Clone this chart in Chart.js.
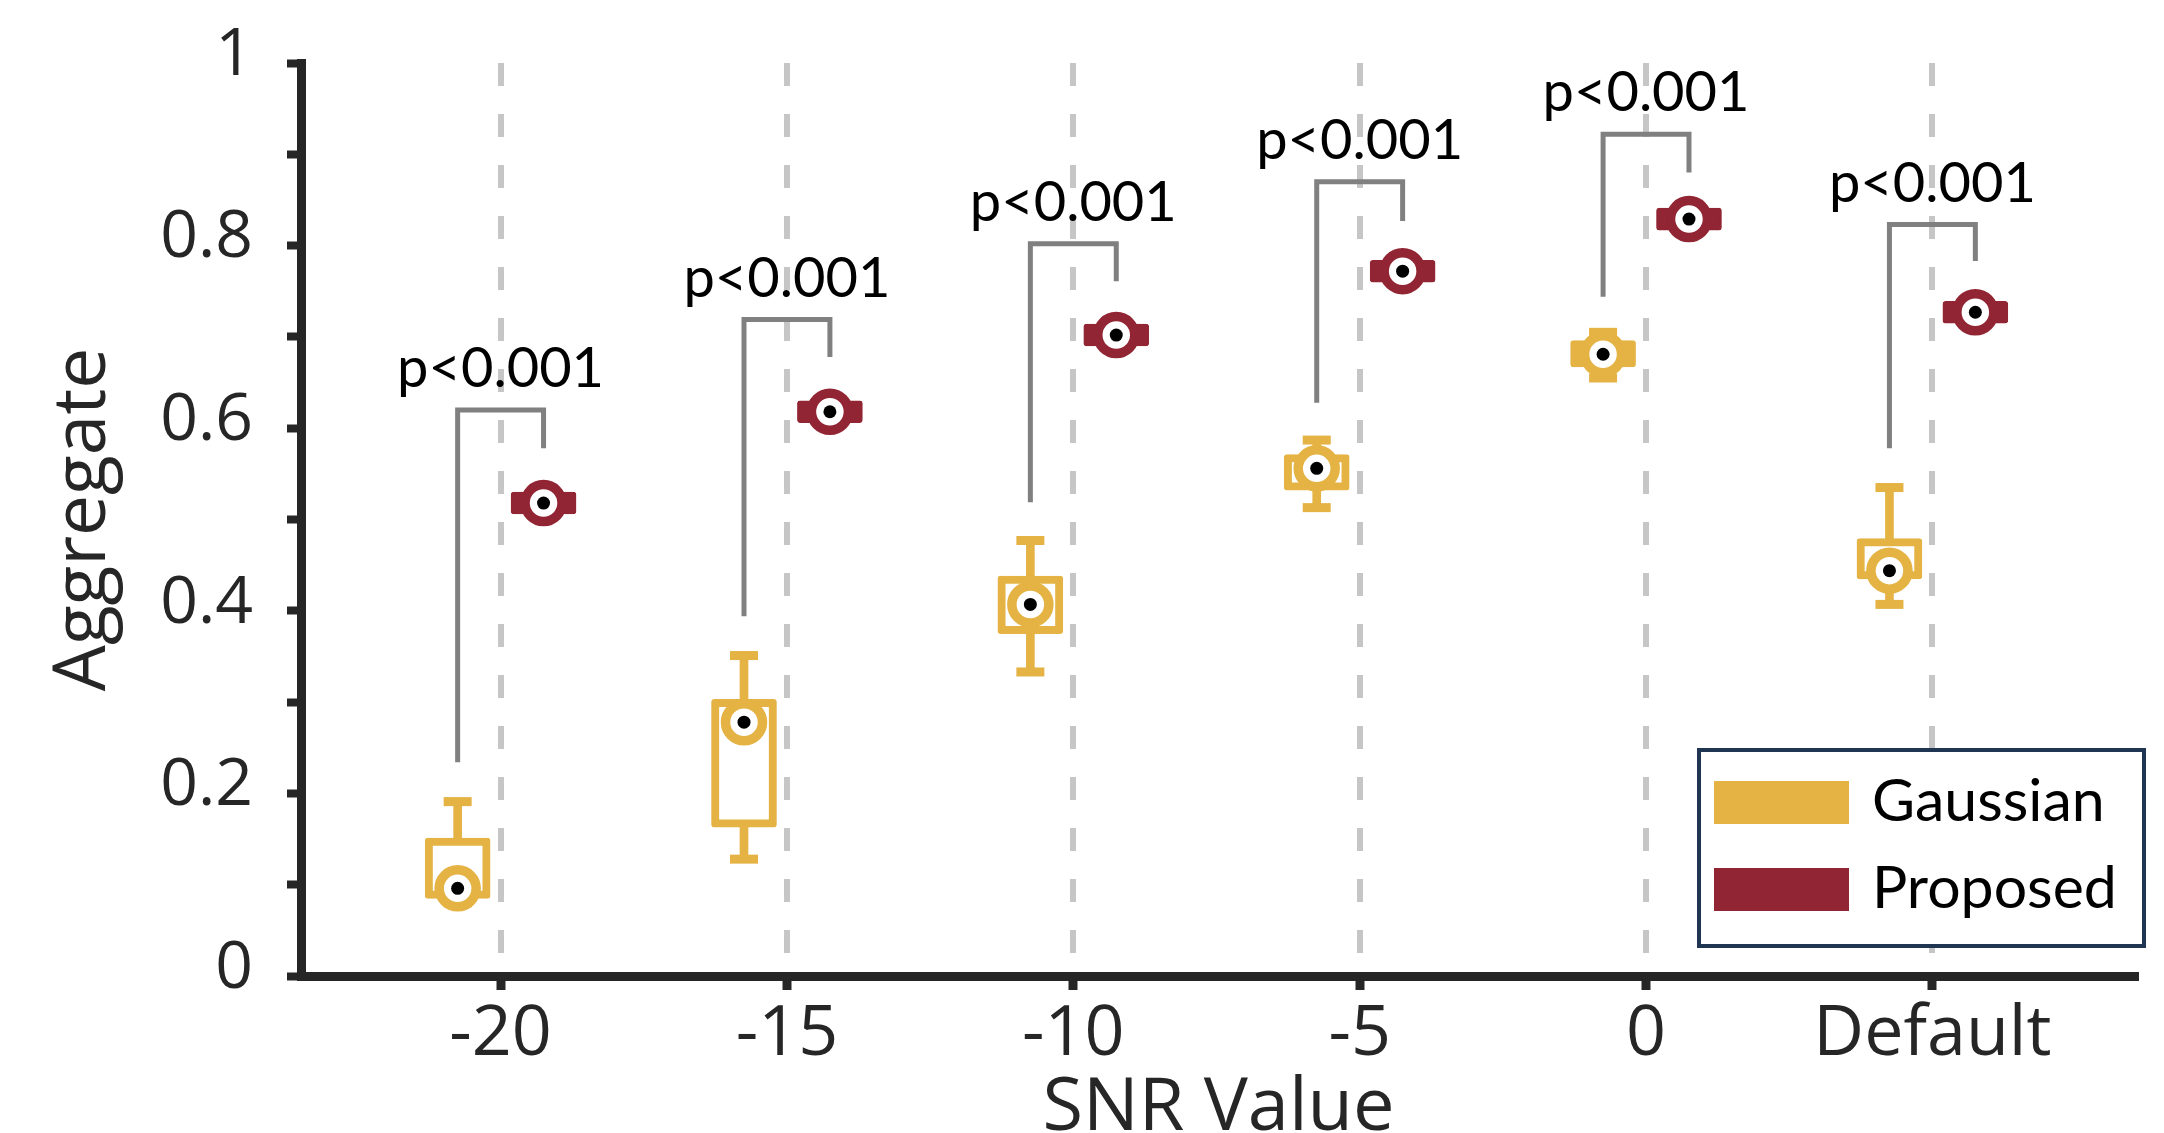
<!DOCTYPE html>
<html>
<head>
<meta charset="utf-8">
<title>Aggregate by SNR</title>
<script src="https://cdn.jsdelivr.net/npm/chart.js@4.4.1/dist/chart.umd.min.js"></script>
<style>
  html, body { margin: 0; padding: 0; background: #fff; overflow: hidden; }
  #wrap { width: 2164px; height: 1133px; position: relative; }
</style>
</head>
<body>
<div id="wrap"><canvas id="snr-chart"></canvas></div>
<script>
// categories on the x axis
const categories = ['-20', '-15', '-10', '-5', '0', 'Default'];
const seriesNames = ['Gaussian', 'Proposed'];
const seriesColors = ['#E4B344', '#922533'];

// Gaussian box stats
const gaussMin    = [0.080, 0.128, 0.333, 0.513, 0.655, 0.407];
const gaussQ1     = [0.085, 0.163, 0.375, 0.532, 0.667, 0.435];
const gaussMedian = [0.096, 0.278, 0.407, 0.556, 0.681, 0.444];
const gaussQ3     = [0.151, 0.303, 0.438, 0.571, 0.696, 0.479];
const gaussMax    = [0.191, 0.351, 0.477, 0.587, 0.705, 0.535];

// Proposed box stats
const propMin    = [0.504, 0.604, 0.688, 0.758, 0.815, 0.713];
const propQ1     = [0.506, 0.606, 0.690, 0.760, 0.817, 0.715];
const propMedian = [0.518, 0.618, 0.702, 0.772, 0.829, 0.727];
const propQ3     = [0.530, 0.630, 0.714, 0.784, 0.841, 0.739];
const propMax    = [0.532, 0.632, 0.716, 0.786, 0.843, 0.741];

// significance brackets
const bracketTop      = [0.620, 0.719, 0.802, 0.870, 0.922, 0.823];
const bracketLeftEnd  = [0.234, 0.394, 0.519, 0.628, 0.744, 0.578];
const bracketRightEnd = [0.578, 0.678, 0.761, 0.827, 0.880, 0.783];
const pLabels = ['p<0.001', 'p<0.001', 'p<0.001', 'p<0.001', 'p<0.001', 'p<0.001'];

// y ticks
const yTickValues = [0, 0.1, 0.2, 0.3, 0.4, 0.5, 0.6, 0.7, 0.8, 0.9, 1];
const yTickLabels = ['0', '', '0.2', '', '0.4', '', '0.6', '', '0.8', '', '1'];

const seriesOffset = [-0.15, 0.15];
const stats = [
    {min: gaussMin, q1: gaussQ1, med: gaussMedian, q3: gaussQ3, max: gaussMax},
    {min: propMin, q1: propQ1, med: propMedian, q3: propQ3, max: propMax}
];

function pos(i, s) { return i + seriesOffset[s]; }

const datasets = [];
stats.forEach(function (st, s) {
    const color = seriesColors[s];
    // whisker stem
    datasets.push({
        type: 'bar', label: seriesNames[s] + ' whisker', order: 5,
        data: categories.map((c, i) => ({x: pos(i, s), y: [st.min[i], st.max[i]]})),
        backgroundColor: color, borderWidth: 0,
        grouped: false, barPercentage: 1, barThickness: 8, maxBarThickness: 8
    });
    // box (thin boxes look solid, like the original)
    datasets.push({
        type: 'bar', label: seriesNames[s], order: 4,
        data: categories.map((c, i) => ({x: pos(i, s), y: [st.q1[i], st.q3[i]]})),
        backgroundColor: function (c) {
            const i = c.dataIndex;
            if (i === undefined) return '#ffffff';
            return (st.q3[i] - st.q1[i]) < 0.035 ? color : '#ffffff';
        },
        borderColor: color, borderWidth: 8,
        borderSkipped: false, borderRadius: 3,
        grouped: false, barPercentage: 1, barThickness: 65, maxBarThickness: 65
    });
    // whisker caps
    datasets.push({
        type: 'scatter', label: seriesNames[s] + ' caps', order: 3,
        data: categories.flatMap((c, i) => [{x: pos(i, s), y: st.min[i]}, {x: pos(i, s), y: st.max[i]}]),
        pointStyle: 'line', pointRadius: 14, pointBorderWidth: 9,
        borderColor: color, pointBorderColor: color, showLine: false
    });
    // median ring
    datasets.push({
        type: 'scatter', label: seriesNames[s] + ' median', order: 2,
        data: categories.map((c, i) => ({x: pos(i, s), y: st.med[i]})),
        pointRadius: 18.5, pointBorderWidth: 9.5,
        pointBackgroundColor: '#ffffff', pointBorderColor: color, showLine: false
    });
    // median dot
    datasets.push({
        type: 'scatter', label: seriesNames[s] + ' dot', order: 1,
        data: categories.map((c, i) => ({x: pos(i, s), y: st.med[i]})),
        pointRadius: 6.5, pointBorderWidth: 0,
        pointBackgroundColor: '#000000', showLine: false
    });
});

// brackets as one broken line
const bracketData = [];
categories.forEach(function (c, i) {
    bracketData.push({x: pos(i, 0), y: bracketLeftEnd[i]});
    bracketData.push({x: pos(i, 0), y: bracketTop[i]});
    bracketData.push({x: pos(i, 1), y: bracketTop[i]});
    bracketData.push({x: pos(i, 1), y: bracketRightEnd[i]});
    bracketData.push({x: pos(i, 1), y: null});
});
datasets.push({
    type: 'line', label: 'brackets', order: 6,
    data: bracketData,
    borderColor: '#808080', borderWidth: 5, pointRadius: 0,
    spanGaps: false, tension: 0, fill: false, borderJoinStyle: 'miter'
});

const pValuePlugin = {
    id: 'pValues',
    afterDatasetsDraw(chart) {
        const ctx = chart.ctx;
        const x = chart.scales.x, y = chart.scales.y;
        ctx.save();
        ctx.font = '56px Lato';
        ctx.fillStyle = '#000';
        ctx.textAlign = 'center';
        ctx.textBaseline = 'alphabetic';
        pLabels.forEach(function (t, i) {
            ctx.fillText(t, x.getPixelForValue(i), y.getPixelForValue(bracketTop[i]) - 23);
        });
        ctx.restore();
    }
};

const boxLegendPlugin = {
    id: 'boxLegend',
    afterDraw(chart) {
        const ctx = chart.ctx;
        const left = 1697, top = 748, w = 449, h = 200;
        ctx.save();
        ctx.fillStyle = '#fff';
        ctx.fillRect(left, top, w, h);
        ctx.strokeStyle = '#1F3552';
        ctx.lineWidth = 4;
        ctx.strokeRect(left + 2, top + 2, w - 4, h - 4);
        ctx.font = '59px Lato';
        ctx.textBaseline = 'alphabetic';
        ctx.textAlign = 'left';
        seriesNames.forEach(function (name, s) {
            const rowTop = top + 33 + s * 87;
            ctx.fillStyle = seriesColors[s];
            ctx.fillRect(left + 17, rowTop, 135, 43);
            ctx.fillStyle = '#000';
            ctx.fillText(name, left + 175, rowTop + 40);
        });
        ctx.restore();
    }
};

const ctx = document.getElementById('snr-chart');
new Chart(ctx, {
    type: 'bar',
    data: { datasets: datasets },
    options: {
        responsive: true,
        maintainAspectRatio: false,
        animation: false,
        layout: { padding: { top: 63, right: 27, left: 0, bottom: 0 } },
        plugins: { legend: { display: false }, tooltip: { enabled: false } },
        scales: {
            x: {
                type: 'linear',
                min: -0.697,
                max: 5.711,
                offset: false,
                afterBuildTicks: function (scale) {
                    scale.ticks = categories.map((c, i) => ({value: i}));
                },
                afterFit: function (scale) { scale.height = 157; },
                ticks: {
                    callback: function (v, i) { return categories[i]; },
                    font: { family: 'Open Sans', size: 70 },
                    color: '#262626',
                    padding: 3,
                    maxRotation: 0,
                    autoSkip: false
                },
                grid: {
                    offset: false,
                    drawOnChartArea: true,
                    color: '#C6C6C6',
                    lineWidth: 6,
                    tickColor: '#262626',
                    tickWidth: 9,
                    tickLength: 14,
                    tickBorderDash: []
                },
                border: { color: '#262626', width: 9, dash: [23, 28] },
                title: {
                    display: true,
                    text: 'SNR Value',
                    font: { family: 'Open Sans', size: 74, lineHeight: 0.64 },
                    color: '#262626',
                    padding: 0
                }
            },
            y: {
                min: 0,
                max: 1,
                afterBuildTicks: function (scale) {
                    scale.ticks = yTickValues.map(v => ({value: v}));
                },
                afterFit: function (scale) { scale.width = 301; },
                ticks: {
                    callback: function (v, i) { return yTickLabels[i]; },
                    font: { family: 'Open Sans', size: 66, lineHeight: 0.6 },
                    color: '#262626',
                    padding: 34,
                    labelOffset: -7
                },
                grid: {
                    drawOnChartArea: false,
                    tickColor: '#262626',
                    tickWidth: 8,
                    tickLength: 14
                },
                border: { color: '#262626', width: 9 },
                title: {
                    display: true,
                    text: 'Aggregate',
                    font: { family: 'Open Sans', size: 73 },
                    color: '#262626',
                    padding: { top: 40, bottom: 0 }
                }
            }
        }
    },
    plugins: [pValuePlugin, boxLegendPlugin]
});
</script>
</body>
</html>
